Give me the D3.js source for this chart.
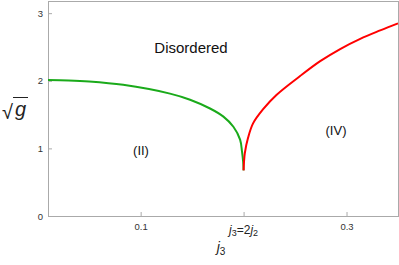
<!DOCTYPE html>
<meta charset="utf-8">
<style>
body { margin: 0; background: #fff; }
text { font-family: "Liberation Sans", Arial, sans-serif; }
</style>
<body>
<script src="https://d3js.org/d3.v7.min.js"></script>
<script>

// green boundary: (j3, sqrt g)
var greenJ = [0.010, 0.030, 0.050, 0.083, 0.1285, 0.148, 0.1674, 0.1804, 0.1901, 0.1966, 0.1985, 0.1996, 0.200];
var greenG = [2.01, 2.005, 1.99, 1.94, 1.81, 1.72, 1.59, 1.47, 1.32, 1.13, 0.95, 0.80, 0.675];
// red boundary
var redJ = [0.200, 0.2004, 0.2012, 0.2044, 0.2092, 0.219, 0.2319, 0.2549, 0.2744, 0.2938, 0.3133, 0.3327, 0.350];
var redG = [0.675, 0.80, 0.93, 1.16, 1.37, 1.58, 1.79, 2.07, 2.29, 2.47, 2.62, 2.745, 2.85];

var xTicks = [0.1, 0.2, 0.3];
var xTickLabels = ["0.1", "", "0.3"];
var yTicks = [0, 1, 2, 3];

var width = 399, height = 265;
var plotLeft = 48, plotRight = 398, plotTop = 1, plotBottom = 216;

var svg = d3.select("body").append("svg")
    .attr("width", width)
    .attr("height", height);

var x = d3.scaleLinear().domain([0.01, 0.35]).range([plotLeft, plotRight]);
var y = d3.scaleLinear().domain([0, 3.18]).range([plotBottom, plotTop]);

// frame
svg.append("rect")
    .attr("x", plotLeft + 0.5).attr("y", plotTop + 0.5)
    .attr("width", plotRight - plotLeft).attr("height", plotBottom - plotTop)
    .attr("fill", "none").attr("stroke", "#aaa").attr("stroke-width", 1);

var xAxis = svg.append("g")
    .attr("transform", "translate(0," + plotBottom + ")")
    .call(d3.axisBottom(x).tickValues(xTicks).tickSizeInner(-4).tickSizeOuter(0)
        .tickFormat(function(d, i) { return xTickLabels[i]; }));
xAxis.select(".domain").attr("stroke", "#aaa");
xAxis.selectAll(".tick line").attr("stroke", "#aaa");
xAxis.selectAll(".tick text").attr("y", 7).attr("fill", "#333")
    .style("font-size", "9.5px").style("font-family", "Liberation Sans, Arial, sans-serif");

var yAxis = svg.append("g")
    .attr("transform", "translate(" + plotLeft + ",0)")
    .call(d3.axisLeft(y).tickValues(yTicks).tickSizeInner(-4).tickSizeOuter(0)
        .tickFormat(d3.format("d")));
yAxis.select(".domain").attr("stroke", "#aaa");
yAxis.selectAll(".tick line").attr("stroke", "#aaa");
yAxis.selectAll(".tick text").attr("x", -5).attr("fill", "#333")
    .style("font-size", "9.5px").style("font-family", "Liberation Sans, Arial, sans-serif");

var line = d3.line()
    .x(function(d) { return x(d[0]); })
    .y(function(d) { return y(d[1]); })
    .curve(d3.curveCatmullRom.alpha(0.5));

svg.append("path")
    .datum(d3.zip(greenJ, greenG))
    .attr("d", line)
    .attr("fill", "none").attr("stroke", "#1aaa1a").attr("stroke-width", 2);

svg.append("path")
    .datum(d3.zip(redJ, redG))
    .attr("d", line)
    .attr("fill", "none").attr("stroke", "#ff0000").attr("stroke-width", 2);

// region labels
svg.append("text").attr("x", 191).attr("y", 53).attr("text-anchor", "middle")
    .style("font-size", "15px").attr("fill", "#111").text("Disordered");
svg.append("text").attr("x", 141).attr("y", 155).attr("text-anchor", "middle")
    .style("font-size", "13px").attr("fill", "#111").text("(II)");
svg.append("text").attr("x", 336).attr("y", 135).attr("text-anchor", "middle")
    .style("font-size", "13px").attr("fill", "#111").text("(IV)");

// special tick label j3=2j2
var t = svg.append("text").attr("x", x(0.2)).attr("y", 234).attr("text-anchor", "middle")
    .style("font-size", "12px").attr("fill", "#222");
t.append("tspan").style("font-style", "italic").text("j");
t.append("tspan").attr("dy", 2).style("font-size", "9px").text("3");
t.append("tspan").attr("dy", -2).text("=2");
t.append("tspan").style("font-style", "italic").text("j");
t.append("tspan").attr("dy", 2).style("font-size", "9px").text("2");

// x title
var xt = svg.append("text").attr("x", 221).attr("y", 252).attr("text-anchor", "middle")
    .style("font-size", "14px").attr("fill", "#222");
xt.append("tspan").style("font-style", "italic").text("j");
xt.append("tspan").attr("dy", 3).style("font-size", "10px").text("3");

// y title: sqrt g
svg.append("text").attr("x", 2).attr("y", 119)
    .style("font-size", "20px").attr("fill", "#222").text("\u221A");
svg.append("text").attr("x", 15).attr("y", 116)
    .style("font-size", "20px").style("font-style", "italic").attr("fill", "#222").text("g");
svg.append("line").attr("x1", 13).attr("x2", 28).attr("y1", 97.5).attr("y2", 97.5)
    .attr("stroke", "#222").attr("stroke-width", 1);

</script>
